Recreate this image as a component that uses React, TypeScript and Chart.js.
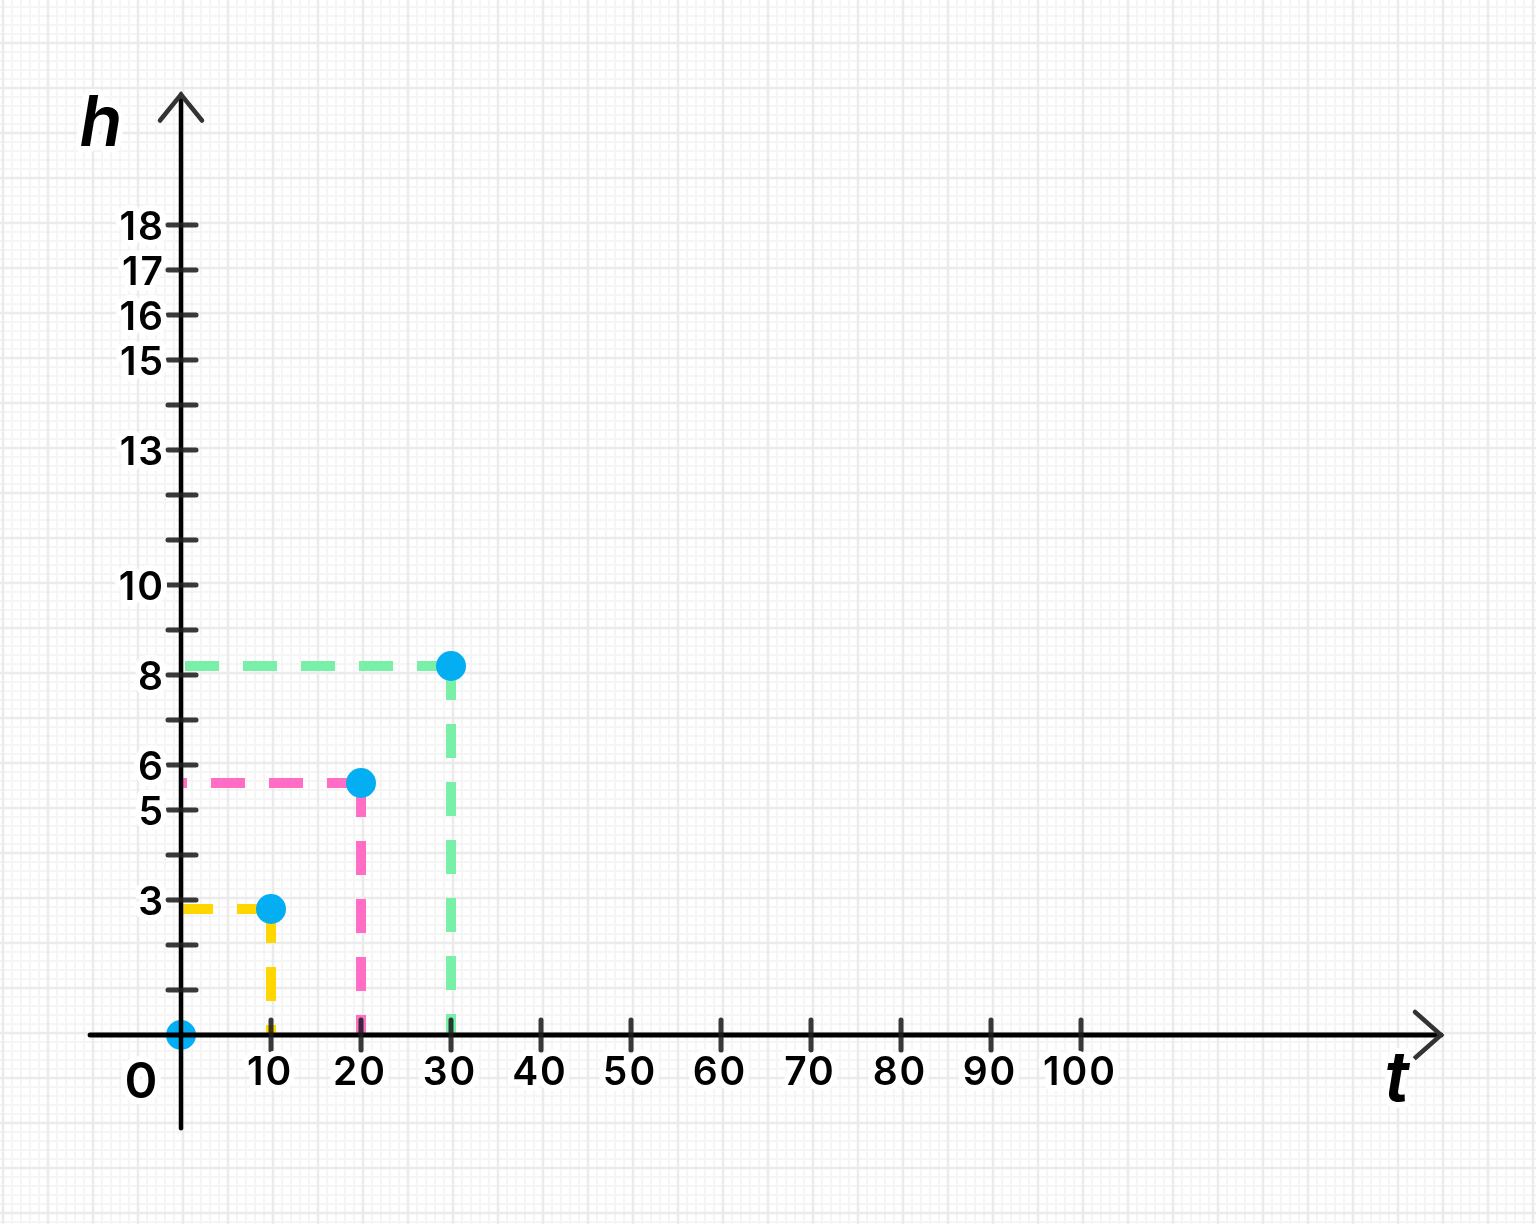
import React, { useEffect, useRef } from "react";
import { Chart, registerables } from "chart.js";

Chart.register(...registerables);

// ---- data ----
const tValues = [0, 10, 20, 30];
const hValues = [0, 2.8, 5.6, 8.2];
const guideColors = ["#FFD600", "#FF6EC4", "#78F0A8"]; // guides for points 2..4
const xTicks = [10, 20, 30, 40, 50, 60, 70, 80, 90, 100];
const xTickLabels = ["10", "20", "30", "40", "50", "60", "70", "80", "90", "100"];
const yTicks = [1, 2, 3, 4, 5, 6, 7, 8, 9, 10, 11, 12, 13, 14, 15, 16, 17, 18];
const yTickLabels = [3, 5, 6, 8, 10, 13, 15, 16, 17, 18];
const xAxisTitle = "t";
const yAxisTitle = "h";
const originLabel = "0";

// scale extents (data units)
const X_MIN = -181 / 9;
const X_MAX = (1536 - 181) / 9;
const Y_MIN = -189 / 45;
const Y_MAX = 1035 / 45;
const X_AXIS_FROM = -10.1;
const X_AXIS_TO = 140;
const Y_AXIS_FROM = -2.07;
const Y_AXIS_TO = 20.9;

const FONT = 'Inter, "Open Sans", "Noto Sans", sans-serif';

function haloText(ctx: CanvasRenderingContext2D, text: string, x: number, y: number) {
  ctx.lineJoin = "round";
  ctx.strokeStyle = "#ffffff";
  ctx.lineWidth = 12;
  ctx.strokeText(text, x, y);
  ctx.fillStyle = "#000000";
  ctx.fillText(text, x, y);
}

const paperPlugin = {
  id: "paper",
  beforeDraw(chart: any) {
    const { ctx, width, height } = chart;
    const x = chart.scales.x;
    const y = chart.scales.y;
    ctx.save();
    ctx.fillStyle = "#ffffff";
    ctx.fillRect(0, 0, width, height);
    const dx = 2;
    const dy = -2;
    // minor grid
    ctx.strokeStyle = "#f5f5f5";
    ctx.lineWidth = 2;
    for (let v = Math.ceil(X_MIN); v <= X_MAX; v++) {
      if (v % 5 === 0) continue;
      const px = Math.round(x.getPixelForValue(v) + dx);
      ctx.beginPath();
      ctx.moveTo(px, 0);
      ctx.lineTo(px, height);
      ctx.stroke();
    }
    for (let k = Math.ceil(Y_MIN / 0.2); k <= Math.floor(Y_MAX / 0.2) + 1; k++) {
      if (k % 5 === 0) continue;
      const py = Math.round(y.getPixelForValue(k * 0.2) + dy);
      ctx.beginPath();
      ctx.moveTo(0, py);
      ctx.lineTo(width, py);
      ctx.stroke();
    }
    // major grid
    ctx.strokeStyle = "#ebebeb";
    ctx.lineWidth = 2.5;
    for (let v = Math.ceil(X_MIN / 5) * 5; v <= X_MAX; v += 5) {
      const px = Math.round(x.getPixelForValue(v) + dx);
      ctx.beginPath();
      ctx.moveTo(px, 0);
      ctx.lineTo(px, height);
      ctx.stroke();
    }
    for (let v = Math.ceil(Y_MIN); v <= Math.ceil(Y_MAX); v++) {
      const py = Math.round(y.getPixelForValue(v) + dy);
      ctx.beginPath();
      ctx.moveTo(0, py);
      ctx.lineTo(width, py);
      ctx.stroke();
    }
    ctx.restore();
  },
};

const axesPlugin = {
  id: "axesDraw",
  afterDatasetsDraw(chart: any) {
    const { ctx } = chart;
    const x = chart.scales.x;
    const y = chart.scales.y;
    const ox = x.getPixelForValue(0);
    const oy = y.getPixelForValue(0);
    ctx.save();
    ctx.lineCap = "round";

    // axis lines
    ctx.strokeStyle = "#000000";
    ctx.lineWidth = 5;
    ctx.beginPath();
    ctx.moveTo(x.getPixelForValue(X_AXIS_FROM), oy);
    ctx.lineTo(x.getPixelForValue(X_AXIS_TO), oy);
    ctx.stroke();
    ctx.lineWidth = 4.5;
    ctx.beginPath();
    ctx.moveTo(ox, y.getPixelForValue(Y_AXIS_FROM));
    ctx.lineTo(ox, y.getPixelForValue(Y_AXIS_TO));
    ctx.stroke();

    // arrows
    ctx.strokeStyle = "#333333";
    ctx.lineWidth = 4.5;
    const xt = x.getPixelForValue(X_AXIS_TO);
    ctx.beginPath();
    ctx.moveTo(xt - 26, oy - 23);
    ctx.lineTo(xt, oy);
    ctx.lineTo(xt - 26, oy + 23);
    ctx.stroke();
    const yt = y.getPixelForValue(Y_AXIS_TO);
    ctx.beginPath();
    ctx.moveTo(ox - 21, yt + 26);
    ctx.lineTo(ox, yt);
    ctx.lineTo(ox + 21, yt + 26);
    ctx.stroke();

    // ticks
    ctx.strokeStyle = "rgba(30,30,30,0.88)";
    ctx.lineWidth = 5;
    xTicks.forEach((v) => {
      const px = x.getPixelForValue(v);
      ctx.beginPath();
      ctx.moveTo(px, oy - 15);
      ctx.lineTo(px, oy + 15);
      ctx.stroke();
    });
    yTicks.forEach((v) => {
      const py = y.getPixelForValue(v);
      ctx.beginPath();
      ctx.moveTo(ox - 13, py);
      ctx.lineTo(ox + 15, py);
      ctx.stroke();
    });

    // tick labels
    (ctx as any).letterSpacing = "2px";
    ctx.font = `600 39px ${FONT}`;
    ctx.textBaseline = "middle";
    ctx.textAlign = "center";
    xTicks.forEach((v, i) => {
      haloText(ctx, xTickLabels[i], x.getPixelForValue(v) - 1, oy + 38);
    });
    ctx.textAlign = "right";
    yTickLabels.forEach((v) => {
      haloText(ctx, String(v), ox - 16, y.getPixelForValue(v) + 3);
    });

    // origin label
    ctx.font = `600 50px ${FONT}`;
    ctx.textAlign = "center";
    haloText(ctx, originLabel, ox - 39, oy + 48);
    (ctx as any).letterSpacing = "0px";

    // axis titles
    ctx.font = `italic 600 70px ${FONT}`;
    haloText(ctx, yAxisTitle, ox - 80, y.getPixelForValue(Y_AXIS_TO) + 30);
    haloText(ctx, xAxisTitle, x.getPixelForValue(X_AXIS_TO) - 44, oy + 45);

    ctx.restore();
  },
};

export default function App() {
  const canvasRef = useRef<HTMLCanvasElement | null>(null);

  useEffect(() => {
    const canvas = canvasRef.current;
    if (!canvas) return;

    const datasets: any[] = [];
    for (let i = 1; i < tValues.length; i++) {
      const color = guideColors[i - 1];
      const common = {
        type: "line",
        borderColor: color,
        borderWidth: 10,
        borderDash: [34, 24],
        borderCapStyle: "butt",
        pointRadius: 0,
        fill: false,
        tension: 0,
        order: 2,
      };
      datasets.push({
        ...common,
        data: [
          { x: tValues[i], y: hValues[i] },
          { x: 0, y: hValues[i] },
        ],
      });
      datasets.push({
        ...common,
        data: [
          { x: tValues[i], y: hValues[i] },
          { x: tValues[i], y: 0 },
        ],
      });
    }
    datasets.push({
      type: "scatter",
      data: tValues.map((t, i) => ({ x: t, y: hValues[i] })),
      showLine: false,
      pointRadius: 15,
      pointBackgroundColor: "#03AEF3",
      pointBorderWidth: 0,
      order: 1,
    });

    const chart = new Chart(canvas, {
      type: "scatter",
      data: { datasets },
      options: {
        responsive: false,
        animation: false,
        layout: { padding: 0, autoPadding: false },
        plugins: {
          legend: { display: false },
          tooltip: { enabled: false },
        },
        scales: {
          x: { type: "linear", min: X_MIN, max: X_MAX, display: false },
          y: { type: "linear", min: Y_MIN, max: Y_MAX, display: false },
        },
      },
      plugins: [paperPlugin, axesPlugin],
    } as any);

    return () => chart.destroy();
  }, []);

  return (
    <div style={{ position: "absolute", left: 0, top: 0, width: 1536, height: 1224, background: "#fff" }}>
      <canvas ref={canvasRef} width={1536} height={1224} style={{ display: "block" }} />
    </div>
  );
}
